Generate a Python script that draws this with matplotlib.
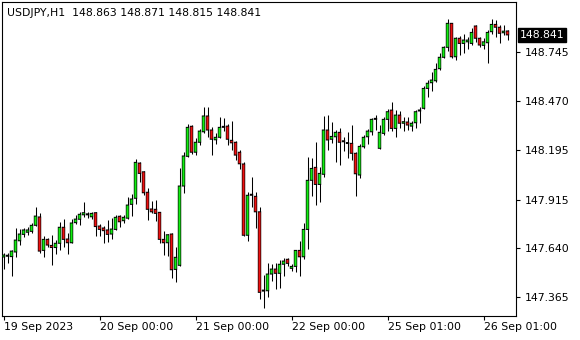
import numpy as np
import matplotlib
matplotlib.use("Agg")
import matplotlib.pyplot as plt
import matplotlib.transforms as mtransforms

# Dados (USDJPY, H1)
opens = [
    147.592, 147.596, 147.594, 147.620, 147.683, 147.719, 147.731, 147.736, 147.770, 147.817,
    147.629, 147.691, 147.657, 147.645, 147.669, 147.759, 147.693, 147.672, 147.785, 147.804,
    147.829, 147.830, 147.818, 147.841, 147.766, 147.755, 147.744, 147.721, 147.747, 147.821,
    147.796, 147.810, 147.888, 147.922, 148.120, 148.071, 147.956, 147.862, 147.860, 147.843,
    147.691, 147.672, 147.721, 147.522, 147.545, 147.991, 148.158, 148.327, 148.181, 148.237,
    148.296, 148.385, 148.306, 148.251, 148.265, 148.321, 148.328, 148.248, 148.237, 148.181,
    148.115, 147.714, 147.940, 147.933, 147.846, 147.400, 147.402, 147.496, 147.524, 147.500,
    147.551, 147.579, 147.528, 147.539, 147.629, 147.593, 147.747, 148.023, 148.096, 148.000,
    148.057, 148.306, 148.254, 148.268, 148.293, 148.240, 148.231, 148.231, 148.175, 148.053,
    148.212, 148.268, 148.296, 148.366, 148.203, 148.287, 148.366, 148.418, 148.315, 148.390,
    148.344, 148.351, 148.328, 148.347, 148.413, 148.428, 148.540, 148.572, 148.583, 148.651,
    148.715, 148.771, 148.906, 148.718, 148.822, 148.793, 148.802, 148.793, 148.891, 148.822,
    148.782, 148.797, 148.859, 148.900, 148.884, 148.853, 148.863]
highs = [
    147.614, 147.614, 147.631, 147.755, 147.752, 147.756, 147.760, 147.783, 147.873, 147.839,
    147.710, 147.701, 147.718, 147.687, 147.789, 147.805, 147.729, 147.804, 147.828, 147.846,
    147.901, 147.846, 147.846, 147.846, 147.777, 147.766, 147.798, 147.811, 147.826, 147.826,
    147.826, 147.929, 147.944, 148.143, 148.128, 148.077, 147.978, 147.907, 147.912, 147.846,
    147.740, 147.719, 147.725, 147.648, 148.090, 148.184, 148.340, 148.334, 148.259, 148.310,
    148.434, 148.434, 148.321, 148.287, 148.377, 148.372, 148.340, 148.357, 148.244, 148.193,
    148.124, 147.956, 148.040, 147.959, 147.875, 147.490, 147.556, 147.555, 147.556, 147.575,
    147.584, 147.584, 147.551, 147.631, 147.682, 147.781, 148.152, 148.147, 148.237, 148.099,
    148.386, 148.390, 148.349, 148.306, 148.315, 148.268, 148.293, 148.334, 148.184, 148.226,
    148.278, 148.312, 148.372, 148.390, 148.334, 148.381, 148.422, 148.465, 148.418, 148.414,
    148.379, 148.381, 148.358, 148.418, 148.434, 148.553, 148.587, 148.634, 148.684, 148.737,
    148.778, 148.930, 148.909, 148.827, 148.834, 148.846, 148.831, 148.878, 148.896, 148.831,
    148.822, 148.868, 148.929, 148.925, 148.896, 148.896, 148.871]
lows = [
    147.524, 147.558, 147.485, 147.592, 147.659, 147.707, 147.715, 147.724, 147.766, 147.614,
    147.593, 147.650, 147.547, 147.611, 147.631, 147.648, 147.606, 147.670, 147.777, 147.774,
    147.819, 147.813, 147.807, 147.710, 147.710, 147.673, 147.674, 147.694, 147.744, 147.762,
    147.781, 147.803, 147.822, 147.890, 148.015, 147.942, 147.800, 147.837, 147.796, 147.669,
    147.603, 147.599, 147.472, 147.453, 147.543, 147.953, 148.156, 148.171, 148.165, 148.222,
    148.291, 148.268, 148.165, 148.226, 148.261, 148.302, 148.222, 148.193, 148.137, 148.087,
    147.710, 147.682, 147.875, 147.753, 147.355, 147.303, 147.368, 147.457, 147.410, 147.419,
    147.487, 147.543, 147.513, 147.509, 147.487, 147.580, 147.635, 147.936, 147.884, 147.903,
    148.043, 148.193, 148.231, 148.128, 148.109, 148.188, 148.147, 148.137, 147.936, 148.034,
    148.205, 148.226, 148.278, 148.306, 148.201, 148.278, 148.302, 148.302, 148.265, 148.315,
    148.300, 148.306, 148.302, 148.315, 148.347, 148.426, 148.493, 148.527, 148.578, 148.643,
    148.709, 148.752, 148.712, 148.700, 148.728, 148.737, 148.760, 148.784, 148.802, 148.774,
    148.760, 148.681, 148.846, 148.831, 148.793, 148.840, 148.815]
closes = [
    147.603, 147.598, 147.625, 147.687, 147.721, 147.744, 147.744, 147.770, 147.822, 147.625,
    147.691, 147.659, 147.645, 147.669, 147.759, 147.691, 147.672, 147.783, 147.805, 147.832,
    147.841, 147.829, 147.837, 147.763, 147.747, 147.740, 147.719, 147.749, 147.815, 147.790,
    147.815, 147.884, 147.918, 148.124, 148.062, 147.953, 147.860, 147.846, 147.837, 147.691,
    147.672, 147.717, 147.520, 147.590, 147.991, 148.160, 148.321, 148.181, 148.237, 148.300,
    148.385, 148.306, 148.254, 148.265, 148.321, 148.322, 148.254, 148.234, 148.165, 148.116,
    147.714, 147.939, 147.939, 147.846, 147.393, 147.403, 147.496, 147.524, 147.500, 147.551,
    147.569, 147.556, 147.539, 147.629, 147.593, 147.747, 148.023, 148.090, 148.000, 148.062,
    148.306, 148.250, 148.270, 148.293, 148.237, 148.241, 148.230, 148.175, 148.060, 148.214,
    148.265, 148.300, 148.366, 148.367, 148.293, 148.366, 148.409, 148.315, 148.390, 148.344,
    148.353, 148.334, 148.344, 148.409, 148.414, 148.540, 148.569, 148.587, 148.647, 148.715,
    148.771, 148.906, 148.718, 148.822, 148.793, 148.812, 148.812, 148.855, 148.822, 148.784,
    148.802, 148.855, 148.900, 148.884, 148.850, 148.862, 148.841]

xtick_pos = [0, 24, 48, 72, 96, 120]
xtick_labels = ["19 Sep 2023", "20 Sep 00:00", "21 Sep 00:00", "22 Sep 00:00",
                "25 Sep 01:00", "26 Sep 01:00"]
ytick_vals = [147.365, 147.640, 147.915, 148.195, 148.470, 148.745]
header = "USDJPY,H1  148.863 148.871 148.815 148.841"
last_price = 148.841

# Gráfico
plt.rcParams['font.family'] = ['DejaVu Sans']
fs = 7.8
fig = plt.figure(figsize=(5.8, 3.4), dpi=100)
fig.patch.set_facecolor("white")
ax = fig.add_axes([2 / 580, 24 / 340, 514 / 580, 314 / 340])

y_min, y_max = 147.260, 149.026
px = (y_max - y_min) / 314  # altura de um pixel em preço

o = np.array(opens)
h = np.array(highs)
l = np.array(lows)
c = np.array(closes)
x = np.arange(len(o))
cores = np.where(c >= o, "#11ee11", "#ee1111")

lo = np.minimum(o, c)
alt = np.maximum(np.abs(c - o), px)

# pavios
ax.vlines(x, l, h, color="black", linewidth=0.75, zorder=2)
# corpo: contorno preto e miolo colorido
ax.bar(x, alt + px, bottom=lo - px / 2, width=0.85, color="black",
       linewidth=0, zorder=3, snap=False)
miolo = alt > 1.5 * px
ax.bar(x[miolo], alt[miolo] - px, bottom=lo[miolo] + px / 2, width=0.52,
       color=cores[miolo], linewidth=0, zorder=4, snap=False)

ax.set_xlim(-0.375, 128.125)
ax.set_ylim(y_min, y_max)

for s in ax.spines.values():
    s.set_color("black")
    s.set_linewidth(0.8)

ax.yaxis.tick_right()
ax.set_yticks(ytick_vals)
ax.set_yticklabels([f"{v:.3f}" for v in ytick_vals])
ax.set_xticks(xtick_pos)
ax.set_xticklabels(xtick_labels)
for lbl in ax.get_xticklabels():
    lbl.set_horizontalalignment("left")
ax.tick_params(axis="both", direction="out", length=3, width=0.8,
               colors="black", labelsize=fs)
ax.tick_params(axis="x", pad=1.5)
ax.tick_params(axis="y", pad=3)

# Rótulo do preço atual
trans = mtransforms.blended_transform_factory(ax.transAxes, ax.transData)
ax.text(1 + 4 / 514, last_price, f"{last_price:.3f}", transform=trans,
        ha="left", va="center", color="white", fontsize=fs, clip_on=False,
        bbox=dict(boxstyle="square,pad=0.15", fc="black", ec="black"))

fig.text(7 / 580, 1 - 13 / 340, header, ha="left", va="center",
         fontsize=fs, color="black")

fig.savefig("out.png", dpi=100, facecolor="white")
